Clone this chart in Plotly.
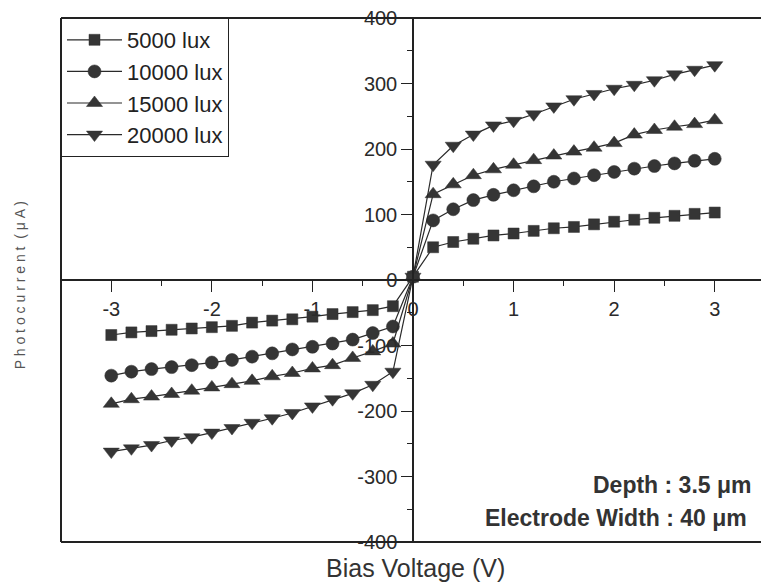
import plotly.graph_objects as go

# Bias sweep (V)
bias = [-3.0, -2.8, -2.6, -2.4, -2.2, -2.0, -1.8, -1.6, -1.4, -1.2, -1.0, -0.8, -0.6, -0.4, -0.2,
        0.0,
        0.2, 0.4, 0.6, 0.8, 1.0, 1.2, 1.4, 1.6, 1.8, 2.0, 2.2, 2.4, 2.6, 2.8, 3.0]

# Photocurrent (uA) per illumination level
i_5000 = [-84, -80, -78, -76, -74, -72, -70, -65, -62, -60, -56, -52, -49, -46, -40,
          5,
          50, 58, 63, 68, 71, 75, 79, 81, 85, 89, 92, 95, 98, 101, 103]
i_10000 = [-146, -140, -136, -133, -130, -126, -122, -117, -112, -106, -102, -97, -91, -81, -71,
           5,
           91, 108, 122, 130, 137, 143, 150, 155, 160, 165, 170, 174, 178, 182, 185]
i_15000 = [-189, -182, -178, -174, -169, -164, -159, -154, -147, -142, -135, -130, -119, -109, -97,
           5,
           131, 146, 160, 169, 176, 183, 190, 196, 202, 209, 222, 229, 234, 238, 244]
i_20000 = [-262, -257, -252, -245, -240, -233, -226, -218, -211, -203, -193, -182, -173, -160, -140,
           5,
           176, 205, 222, 236, 243, 253, 265, 276, 284, 292, 298, 305, 314, 321, 328]

series_names = ["5000 lux", "10000 lux", "15000 lux", "20000 lux"]
series_values = [i_5000, i_10000, i_15000, i_20000]
symbols = ["square", "circle", "triangle-up", "triangle-down"]
sizes = [11, 13, 14, 14]

x_ticks = [-3, -2, -1, 0, 1, 2, 3]
x_ticklabels = ["-3", "-2", "-1", "0", "1", "2", "3"]
y_ticks = [-400, -300, -200, -100, 0, 100, 200, 300, 400]
y_ticklabels = ["-400", "-300", "-200", "-100", "0", "100", "200", "300", "400"]

x_range = [-3.5, 3.46]
y_range = [-400, 400]

FONT = "Liberation Sans, Arial, sans-serif"
INK = "#222"

fig = go.Figure()
for name, vals, sym, sz in zip(series_names, series_values, symbols, sizes):
    fig.add_trace(go.Scatter(
        x=bias, y=vals, name=name, mode="lines+markers",
        line=dict(color="#2a2a2a", width=1.2),
        marker=dict(symbol=sym, size=sz, color="#353535",
                    line=dict(color="#303030", width=0.5)),
    ))

axis_font = dict(family=FONT, size=20, color="#2a2a2a")

fig.update_layout(
    width=761, height=588,
    margin=dict(l=61, r=0, t=18, b=46),
    paper_bgcolor="white", plot_bgcolor="white",
    showlegend=True,
    legend=dict(
        x=0, y=1, xanchor="left", yanchor="top",
        bgcolor="white", bordercolor=INK, borderwidth=1,
        font=dict(family=FONT, size=22, color=INK),
        itemwidth=55, traceorder="normal",
    ),
    xaxis=dict(
        range=x_range, anchor="free", position=0.5,
        showgrid=False, zeroline=False,
        showline=True, linecolor=INK, linewidth=1.5,
        ticks="outside", ticklen=11, tickwidth=1.3, tickcolor=INK,
        tickvals=x_ticks, ticktext=x_ticklabels,
        minor=dict(dtick=0.5, ticklen=5, tickwidth=1, tickcolor=INK, ticks="outside"),
        tickfont=axis_font,
    ),
    yaxis=dict(
        range=y_range, anchor="free",
        position=(0 - x_range[0]) / (x_range[1] - x_range[0]),
        showgrid=False, zeroline=False,
        showline=True, linecolor=INK, linewidth=1.5,
        ticks="outside", ticklen=11, tickwidth=1.3, tickcolor=INK,
        tickvals=y_ticks, ticktext=y_ticklabels,
        minor=dict(dtick=50, ticklen=5, tickwidth=1, tickcolor=INK, ticks="outside"),
        tickfont=axis_font,
    ),
    shapes=[
        dict(type="line", xref="paper", yref="paper", x0=0, x1=1, y0=1, y1=1,
             line=dict(color=INK, width=2)),
        dict(type="line", xref="paper", yref="paper", x0=0, x1=1, y0=0, y1=0,
             line=dict(color=INK, width=2)),
        dict(type="line", xref="paper", yref="paper", x0=0, x1=0, y0=0, y1=1,
             line=dict(color=INK, width=2)),
    ],
    annotations=[
        dict(text="<b>Depth : 3.5 μm</b>", xref="paper", yref="paper", x=0.989, y=0.109,
             xanchor="right", yanchor="middle", showarrow=False,
             font=dict(family=FONT, size=23, color="#333")),
        dict(text="<b>Electrode Width : 40 μm</b>", xref="paper", yref="paper", x=0.983, y=0.046,
             xanchor="right", yanchor="middle", showarrow=False,
             font=dict(family=FONT, size=23, color="#333")),
        dict(text="Bias Voltage (V)", xref="paper", yref="paper", x=0.506, y=-0.05,
             xanchor="center", yanchor="middle", showarrow=False,
             font=dict(family=FONT, size=25, color="#333")),
        dict(text="P h o t o c u r r e n t  ( μ A )", xref="paper", yref="paper",
             x=-0.0586, y=0.49, xanchor="center", yanchor="middle", showarrow=False,
             textangle=-90,
             font=dict(family=FONT, size=14, color="#555")),
    ],
)

fig.write_html("out.html")
